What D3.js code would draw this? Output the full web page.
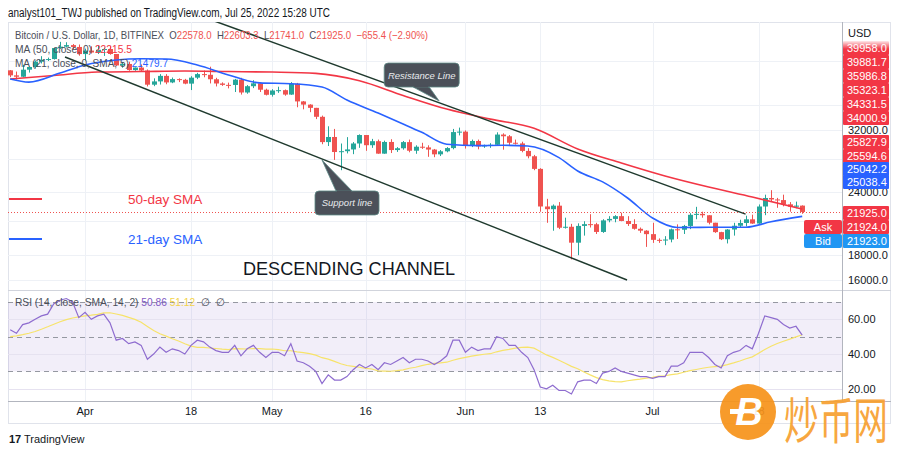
<!DOCTYPE html>
<html><head><meta charset="utf-8">
<script src="https://cdn.jsdelivr.net/npm/d3@7"></script>
<style>html,body{margin:0;padding:0;background:#fff;} svg{display:block;font-family:"Liberation Sans",Arial,sans-serif;}</style>
</head><body><svg id="c" width="900" height="454"></svg>
<script>
// ---------------- DATA ----------------
const startDate = "2022-03-20", endDate = "2022-07-25";
const open = [42240,41262,41002,42364,42892,43961,44349,44500,46820,47128,47465,47062,45538,46281,45868,46453,46622,45555,43206,43503,42287,42782,42208,39521,40127,41166,39936,40553,40424,39716,40827,41503,41375,40527,39740,39486,39470,40458,38118,39242,39773,38610,37714,38469,38529,37750,39698,36575,36041,35501,34060,30297,31023,28936,29047,29284,30102,31305,29863,30425,28720,30315,29201,29445,30294,29110,29655,29562,29267,28628,29031,29468,31734,31802,29805,30452,29700,29865,29920,31373,31125,30205,30110,29084,28374,26763,22487,22206,22572,20381,20472,19018,20553,20720,20711,19987,21085,21231,21502,21028,20735,20280,20105,19785,19269,19243,19297,20231,20190,20548,21637,21731,21592,20860,19970,19323,20212,20569,20836,21190,20779,22485,23389,23231,23164,22714,22465,22578];
const high = [42300,42000,43350,43000,44200,45100,44800,46900,48190,48100,47700,47600,46700,47200,47400,46900,47200,45550,43900,43950,42800,43400,42400,40700,41500,41500,40850,40700,40600,41100,41750,42200,42950,40800,39950,39900,40600,40800,39450,40350,39900,38800,38700,39150,38650,40000,39850,36650,36100,35500,34250,32600,32200,30100,31000,30300,31400,31300,30750,30650,30500,30700,29600,30450,30650,29850,30200,29850,29350,29200,29600,32200,32400,31980,30650,30650,29950,30150,31700,31550,31300,30650,30350,29450,28550,26850,23300,22700,22950,21350,20750,20800,21000,21700,20850,21200,21500,21600,21850,21500,21200,20400,20150,20850,19400,19600,20300,20700,20650,21800,22450,21950,21600,20850,20000,20250,20850,21150,21550,21650,22700,23750,24250,23400,23750,22950,23000,22603.3];
const low = [40920,40470,40900,41800,42600,43600,44100,44400,46650,46950,46600,45200,44200,45650,45550,45150,45400,43100,42750,42150,42150,42000,39200,39250,39550,39600,39800,40000,39600,38550,40550,40900,39750,39200,39300,38850,38200,37750,37900,38900,38200,37600,37400,38050,37550,37700,35600,35260,34800,33700,30000,29750,27900,26600,28750,28650,29500,29100,29500,28700,28700,28800,28950,29250,28900,28700,29350,28300,28250,28400,28900,29300,31250,29400,29600,29300,29500,29500,29850,29250,29900,29950,28900,28100,26600,21950,20850,20100,20250,20300,17600,17950,19650,20400,19800,19900,20900,20900,21000,20550,20200,19900,18650,19000,19000,18800,19050,19350,19800,20250,21200,21350,20700,19900,19250,18950,19650,20400,20500,20750,20750,21600,23000,22350,22500,21950,22300,21741];
const close = [41262,41002,42364,42892,43961,44349,44500,46820,47128,47465,47062,45538,46281,45868,46453,46622,45555,43206,43503,42287,42782,42208,39521,40127,41166,39936,40553,40424,39716,40827,41503,41375,40527,39740,39486,39470,40458,38118,39242,39773,38610,37714,38469,38529,37750,39698,36575,36041,35501,34060,30297,31023,28936,29047,29284,30102,31305,29863,30425,28720,30315,29201,29445,30294,29110,29655,29562,29267,28628,29031,29468,31734,31802,29805,30452,29700,29865,29920,31373,31125,30205,30110,29084,28374,26763,22487,22206,22572,20381,20472,19018,20553,20720,20711,19987,21085,21231,21502,21028,20735,20280,20105,19785,19269,19243,19297,20231,20190,20548,21637,21731,21592,20860,19970,19323,20212,20569,20836,21190,20779,22485,23389,23231,23164,22714,22465,22578,21925];

const ma50Idx = [0,7,14,21,28,35,42,49,56,63,70,77,84,91,98,105,112,119,127];
const ma50Val = [40580,41250,41900,42000,42100,42000,41900,41650,40250,37600,35300,33700,32300,29350,27500,25900,24610,23500,22215.5];
const ma21Idx = [0,3,8,12,17,21,25,30,35,40,45,50,54,59,63,66,70,75,79,83,88,91,95,99,103,107,112,118,122,127];
const ma21Val = [40580,40000,41700,43300,44300,44550,44500,43300,41350,39850,39700,39100,36800,34650,32950,31700,30000,29800,29850,29750,28200,26500,25200,23390,21320,20400,20420,20430,20950,21479.7];

const rsi = [54,52,57,58,60,62,63,69,71,72,70,61,64,60,62,63,58,48,49,46,47,45,37,40,44,41,43,42,40,45,48,47,44,42,41,41,45,39,43,45,41,38,41,41,39,46,36,35,33,30,23,28,25,25,27,31,34,32,34,31,35,34,36,38,35,37,37,36,34,36,39,48,48,41,44,42,43,43,50,49,45,45,41,38,31,21,20,22,19,19,17,24,25,25,23,29,30,32,30,29,28,27,27,26,27,27,33,33,35,41,41,41,38,34,32,39,41,42,45,43,52,62,61,60,57,55,56,50.86];
const rsiMA = [50,50.5,51.2,52,53,54.3,55.7,57.2,58.6,59.8,60.8,61.4,62.0,62.4,62.9,63.7,63.8,63.1,62.3,61.1,60.0,58.3,55.9,53.6,51.7,50.3,48.8,47.5,45.9,44.6,43.9,43.9,43.5,43.2,42.8,42.5,43.1,43.0,42.9,43.2,43.1,42.8,42.9,42.6,41.9,41.9,41.3,40.8,40.2,39.4,37.9,37.1,35.8,34.4,33.4,32.9,32.4,31.7,31.4,30.3,30.2,30.1,30.4,30.9,31.8,32.4,33.3,34.1,34.6,34.9,35.3,36.4,37.4,38.1,38.8,39.4,39.9,40.2,41.3,42.1,42.7,43.4,43.9,44.0,43.4,41.5,39.5,38.1,36.4,34.7,32.9,31.5,29.7,28.0,26.4,25.3,24.5,24.1,24.0,24.6,25.1,25.5,26.1,26.6,27.3,27.5,28.1,28.6,29.5,30.4,31.1,31.8,32.4,32.7,33.0,33.9,34.9,36.0,37.3,38.4,40.5,42.6,44.5,46.1,47.4,48.6,49.9,51.12];

const timeTickDates = ["2022-04-01","2022-04-18","2022-05-01","2022-05-16","2022-06-01","2022-06-13","2022-07-01","2022-07-18"];
const timeTickLabels = ["Apr","18","May","16","Jun","13","Jul","18"];
const priceTicks = [16000,18000,21000,24000,28000,32000,36000,44000];
const priceTickLabelsShown = [16000,18000,24000,32000];
const rsiTicks = [20,40,60];
const rsiLevels = [70,50,30];
const priceTagLabels = ["39958.0","39881.7","35986.8","35323.1","34331.5","34000.9","25827.9","25594.6","25042.2","25038.4","21925.0","21924.0","21923.0"];
const priceTagKinds = ["r","r","r","r","r","r","r","r","b","b","r","r","c"];
const resistance = [["2022-04-20T00:00Z",54040],["2022-07-15T22:00Z",21710]];
const support = [["2022-03-28T19:00Z",44920],["2022-06-26T22:00Z",16000]];
const lastClose = 21925.0;

// ---------------- LAYOUT ----------------
const L = 8, R = 842, AX = 891, T = 22, MB = 290, RB = 401, BB = 424;
const svg = d3.select("#c");
const RED = "#ef5350", GREEN = "#26a69a";
const dates = d3.utcDay.range(new Date(startDate), d3.utcDay.offset(new Date(endDate), 1));
const x = d3.scaleUtc().domain([new Date(startDate), new Date(endDate)]).range([10.2, 802.2]);
const y = d3.scaleLog().domain([16000, 32000]).range([280, 280 - 216 * Math.LN2]);
const yr = d3.scaleLinear().domain([50, 70]).range([336.7, 302]);

const defs = svg.append("defs");
defs.append("clipPath").attr("id", "mainClip").append("rect").attr("x", L).attr("y", T).attr("width", R - L).attr("height", MB - T);
defs.append("clipPath").attr("id", "rsiClip").append("rect").attr("x", L).attr("y", MB + 1).attr("width", R - L).attr("height", RB - MB - 1);
const grad = defs.append("linearGradient").attr("id", "fadeTop").attr("x1", 0).attr("x2", 0).attr("y1", 0).attr("y2", 1);
grad.append("stop").attr("offset", 0).attr("stop-color", "#fff").attr("stop-opacity", 1);
grad.append("stop").attr("offset", 1).attr("stop-color", "#fff").attr("stop-opacity", 0);

// header
svg.append("text").attr("x", 8).attr("y", 17).attr("font-size", 12).attr("fill", "#131722")
  .attr("textLength", 322).attr("lengthAdjust", "spacingAndGlyphs")
  .text("analyst101_TWJ published on TradingView.com, Jul 25, 2022 15:28 UTC");

// frame
svg.append("rect").attr("x", L + 0.5).attr("y", T + 0.5).attr("width", AX - L - 1).attr("height", BB - T - 1)
  .attr("fill", "#fff").attr("stroke", "#e0e3eb");

// grid
const main = svg.append("g").attr("clip-path", "url(#mainClip)");
const rsiG = svg.append("g").attr("clip-path", "url(#rsiClip)");
const tickDates = timeTickDates.map(d => new Date(d));
[main, rsiG].forEach(g => g.selectAll("line.vg").data(tickDates).join("line")
  .attr("x1", d => Math.round(x(d)) + 0.5).attr("x2", d => Math.round(x(d)) + 0.5)
  .attr("y1", T).attr("y2", RB).attr("stroke", "#eef1f6"));
main.selectAll("line.hg").data(priceTicks).join("line")
  .attr("x1", L).attr("x2", R).attr("y1", d => Math.round(y(d)) + 0.5).attr("y2", d => Math.round(y(d)) + 0.5)
  .attr("stroke", "#eef1f6");

// candles
const idx = d3.range(close.length);
main.selectAll("line.wick").data(idx).join("line")
  .attr("x1", i => Math.round(x(dates[i])) + 0.5).attr("x2", i => Math.round(x(dates[i])) + 0.5)
  .attr("y1", i => y(high[i])).attr("y2", i => y(low[i]))
  .attr("stroke", i => close[i] >= open[i] ? GREEN : RED).attr("stroke-width", 1);
main.selectAll("rect.body").data(idx).join("rect")
  .attr("x", i => Math.round(x(dates[i])) - 2).attr("width", 5)
  .attr("y", i => Math.min(y(open[i]), y(close[i])))
  .attr("height", i => Math.max(1, Math.abs(y(open[i]) - y(close[i]))))
  .attr("fill", i => close[i] >= open[i] ? GREEN : RED);

// moving averages
const lineGen = d3.line().curve(d3.curveMonotoneX);
main.append("path").attr("d", lineGen(ma50Idx.map((k, j) => [x(dates[k]), y(ma50Val[j])])))
  .attr("fill", "none").attr("stroke", "#f23645").attr("stroke-width", 1.6);
main.append("path").attr("d", lineGen(ma21Idx.map((k, j) => [x(dates[k]), y(ma21Val[j])])))
  .attr("fill", "none").attr("stroke", "#2962ff").attr("stroke-width", 1.6);

// last price dotted line
main.append("line").attr("x1", L).attr("x2", R).attr("y1", Math.round(y(lastClose)) + 0.5).attr("y2", Math.round(y(lastClose)) + 0.5)
  .attr("stroke", RED).attr("stroke-dasharray", "1,2").attr("stroke-width", 1);

// channel lines
[resistance, support].forEach(seg => main.append("line")
  .attr("x1", x(new Date(seg[0][0]))).attr("y1", y(seg[0][1]))
  .attr("x2", x(new Date(seg[1][0]))).attr("y2", y(seg[1][1]))
  .attr("stroke", "#1f3a2e").attr("stroke-width", 1.5));

// callouts
function callout(tipDate, tipPrice, box, base, label) {
  const tx = x(new Date(tipDate)), ty = y(tipPrice);
  const g = main.append("g");
  const by = base[2];
  g.append("path").attr("d", `M${tx + base[0]},${ty + by}L${tx},${ty}L${tx + base[1]},${ty + by}Z`)
    .attr("fill", "#4b5059").attr("stroke", "#5d8a86").attr("stroke-width", 0.8);
  g.append("rect").attr("x", tx + box[0]).attr("y", ty + box[1]).attr("width", box[2]).attr("height", box[3])
    .attr("rx", 4).attr("fill", "#4b5059").attr("stroke", "#5d8a86").attr("stroke-width", 0.8);
  g.append("rect").attr("x", tx + Math.min(base[0], base[1]) + 1).attr("y", ty + by + (by > 0 ? -0.5 : -1.5)).attr("width", Math.abs(base[1] - base[0]) - 2).attr("height", 2).attr("fill", "#4b5059");
  g.append("text").attr("x", tx + box[0] + box[2] / 2).attr("y", ty + box[1] + box[3] / 2 + 3.5)
    .attr("text-anchor", "middle").attr("font-size", 9.5).attr("font-style", "italic").attr("fill", "#e8eaed").text(label);
}
callout("2022-05-27T19:00Z", 36640, [-55, -38, 75, 24], [-26, -10, -14], "Resistance Line");
callout("2022-05-09T00:00Z", 27890, [-7, 31, 64, 24], [14, 30, 31], "Support line");

// annotations
main.append("line").attr("x1", 9).attr("x2", 42).attr("y1", 199).attr("y2", 199).attr("stroke", "#f23645").attr("stroke-width", 2);
main.append("line").attr("x1", 9).attr("x2", 42).attr("y1", 239).attr("y2", 239).attr("stroke", "#2962ff").attr("stroke-width", 2);
main.append("text").attr("x", 128).attr("y", 204).attr("font-size", 13.5).attr("fill", "#f23645").text("50-day SMA");
main.append("text").attr("x", 128).attr("y", 244).attr("font-size", 13.5).attr("fill", "#2962ff").text("21-day SMA");
main.append("text").attr("x", 243).attr("y", 275).attr("font-size", 19).attr("fill", "#131722")
  .attr("textLength", 212).attr("lengthAdjust", "spacingAndGlyphs").text("DESCENDING CHANNEL");

// legends
const lg1 = svg.append("text").attr("x", 15).attr("y", 39).attr("font-size", 11).attr("fill", "#4a4e59")
  .style("white-space", "pre").attr("textLength", 413).attr("lengthAdjust", "spacingAndGlyphs");
[["Bitcoin / U.S. Dollar, 1D, BITFINEX  O", "#4a4e59"], ["22578.0", RED], ["  H", "#4a4e59"], ["22603.3", RED], ["  L", "#4a4e59"], ["21741.0", RED], ["  C", "#4a4e59"], ["21925.0", RED], ["  \u2212655.4 (\u22122.90%)", RED]]
  .forEach(s => lg1.append("tspan").attr("fill", s[1]).text(s[0]));
const lg2 = svg.append("text").attr("x", 15).attr("y", 53).attr("font-size", 11).attr("fill", "#4a4e59").style("white-space", "pre")
  .attr("textLength", 117).attr("lengthAdjust", "spacingAndGlyphs");
lg2.append("tspan").text("MA (50, close, 0) ");
lg2.append("tspan").attr("fill", "#f23645").text("22215.5");
const lg3 = svg.append("text").attr("x", 15).attr("y", 67).attr("font-size", 11).attr("fill", "#4a4e59").style("white-space", "pre")
  .attr("textLength", 153).attr("lengthAdjust", "spacingAndGlyphs");
lg3.append("tspan").text("MA (21, close, 0, SMA, 5) ");
lg3.append("tspan").attr("fill", "#2962ff").text("21479.7");

// RSI pane
rsiG.append("rect").attr("x", L).attr("width", R - L).attr("y", yr(70)).attr("height", yr(30) - yr(70)).attr("fill", "#7e57c2").attr("fill-opacity", 0.1);
rsiG.selectAll("line.rg").data(rsiTicks).join("line").attr("x1", L).attr("x2", R)
  .attr("y1", d => Math.round(yr(d)) + 0.5).attr("y2", d => Math.round(yr(d)) + 0.5).attr("stroke", "#e6e2f0");
rsiG.selectAll("line.lv").data(rsiLevels).join("line").attr("x1", L).attr("x2", R)
  .attr("y1", d => Math.round(yr(d)) + 0.5).attr("y2", d => Math.round(yr(d)) + 0.5)
  .attr("stroke", "#9598a1").attr("stroke-dasharray", "5,4");
const rl = d3.line().x((d, i) => x(dates[i])).y(d => yr(d));
rsiG.append("path").attr("d", rl(rsiMA)).attr("fill", "none").attr("stroke", "#f7e36a").attr("stroke-width", 1.2);
rsiG.append("path").attr("d", rl(rsi)).attr("fill", "none").attr("stroke", "#8e6ccf").attr("stroke-width", 1.2);
const lg4 = svg.append("text").attr("x", 15).attr("y", 306).attr("font-size", 11).attr("fill", "#4a4e59").style("white-space", "pre")
  .attr("textLength", 210).attr("lengthAdjust", "spacingAndGlyphs");
lg4.append("tspan").text("RSI (14, close, SMA, 14, 2) ");
lg4.append("tspan").attr("fill", "#7e57c2").text("50.86 ");
lg4.append("tspan").attr("fill", "#f3d34a").text("51.12 ");
lg4.append("tspan").text(" \u2205  \u2205");

// separators
svg.append("line").attr("x1", L).attr("x2", AX).attr("y1", MB + 0.5).attr("y2", MB + 0.5).attr("stroke", "#d1d4dc");
svg.append("line").attr("x1", L).attr("x2", AX).attr("y1", RB + 0.5).attr("y2", RB + 0.5).attr("stroke", "#b2b5be");
svg.append("line").attr("x1", R + 0.5).attr("x2", R + 0.5).attr("y1", T).attr("y2", RB).attr("stroke", "#b2b5be");

// time axis labels
svg.selectAll("text.tx").data(tickDates).join("text")
  .attr("x", d => x(d)).attr("y", 415).attr("text-anchor", "middle").attr("font-size", 11).attr("fill", "#131722")
  .text((d, i) => timeTickLabels[i]);

// price axis
svg.append("text").attr("x", 848).attr("y", 37).attr("font-size", 11).attr("fill", "#131722").text("USD");
svg.selectAll("text.py").data(priceTickLabelsShown).join("text")
  .attr("x", 848).attr("y", d => y(d) + 4).attr("font-size", 11).attr("fill", "#131722").text(d => d3.format(".1f")(d));
svg.selectAll("text.ry").data(rsiTicks).join("text")
  .attr("x", 848).attr("y", d => yr(d) + 4).attr("font-size", 11).attr("fill", "#131722").text(d => d3.format(".2f")(d));

// price tags (stacked, TradingView style)
const tagCenters = [48, 62, 76, 90, 104, 118, 142, 156, 169, 182, 213, 227, 241];
const tagFill = { r: "#f23645", b: "#2962ff", c: "#2196f3" };
const tags = svg.selectAll("g.tag").data(priceTagLabels).join("g");
tags.append("rect").attr("x", R + 1).attr("width", 46).attr("y", (d, i) => tagCenters[i] - 7).attr("height", 14)
  .attr("rx", 1).attr("fill", (d, i) => tagFill[priceTagKinds[i]]);
tags.append("text").attr("x", R + 5).attr("y", (d, i) => tagCenters[i] + 4).attr("font-size", 11).attr("fill", "#fff").text(d => d);
// ask / bid
[["Ask", 227, "#f23645"], ["Bid", 241, "#2196f3"]].forEach(a => {
  svg.append("rect").attr("x", 804).attr("y", a[1] - 7).attr("width", 38).attr("height", 14).attr("rx", 2).attr("fill", a[2]);
  svg.append("text").attr("x", 823).attr("y", a[1] + 4).attr("text-anchor", "middle").attr("font-size", 11).attr("fill", "#fff").text(a[0]);
});
svg.append("rect").attr("x", R + 1).attr("y", 40).attr("width", 47).attr("height", 9).attr("fill", "url(#fadeTop)");

// TradingView footer
const f = svg.append("g").attr("transform", "translate(9,432)");
f.append("text").attr("x", 0).attr("y", 11).attr("font-size", 11).attr("font-weight", "bold").attr("fill", "#131722").text("17");
f.append("text").attr("x", 15).attr("y", 11).attr("font-size", 11).attr("fill", "#131722").text("TradingView");

// watermark
const w = svg.append("g").attr("opacity", 0.92);
w.append("circle").attr("cx", 748).attr("cy", 412).attr("r", 28).attr("fill", "#f7931a");
w.append("text").attr("x", 749).attr("y", 425).attr("text-anchor", "middle").attr("font-size", 38).attr("font-weight", "bold")
  .attr("font-style", "italic").attr("fill", "#fff").text("B");
w.append("rect").attr("x", 730).attr("y", 409).attr("width", 14).attr("height", 5).attr("fill", "#fff");
w.append("text").attr("x", 784).attr("y", 439).attr("font-size", 50).attr("font-family", "Noto Sans CJK SC")
  .attr("fill", "#f7a030").attr("textLength", 104).attr("lengthAdjust", "spacingAndGlyphs").text("炒币网");
</script></body></html>
